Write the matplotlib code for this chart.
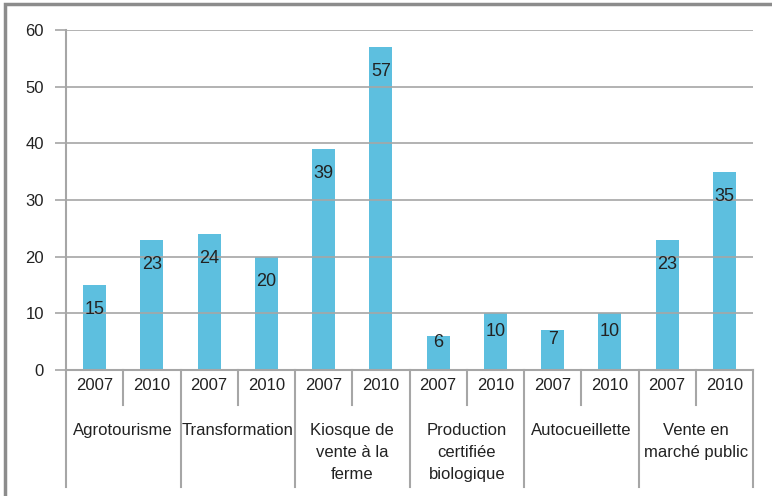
import matplotlib
matplotlib.use("Agg")
import matplotlib.pyplot as plt
from matplotlib.patches import Rectangle

plt.rcParams['font.family'] = ['Liberation Sans', 'DejaVu Sans']

groups = ["Agrotourisme", "Transformation", "Kiosque de\nvente à la\nferme",
          "Production\ncertifiée\nbiologique", "Autocueillette", "Vente en\nmarché public"]
years = ["2007", "2010"]
values = [15, 23, 24, 20, 39, 57, 6, 10, 7, 10, 23, 35]
yticks = [0, 10, 20, 30, 40, 50, 60]

W, H = 772, 496
fig = plt.figure(figsize=(W / 100, H / 100), dpi=100)
ax = fig.add_axes([66 / W, 126 / H, (753 - 66) / W, 340 / H])

bar_color = '#5dbfdf'
grid_color = '#a6a6a6'
text_color = '#222222'
n = len(values)
x = list(range(n))
ax.bar(x, values, width=0.4, color=bar_color, zorder=2, edgecolor='none')
ax.set_xlim(-0.5, n - 0.5)
ax.set_ylim(0, 60)
ax.set_yticks(yticks)
ax.set_yticklabels([str(t) for t in yticks], fontsize=12, color=text_color)
ax.tick_params(axis='y', length=8, color=grid_color, width=1.2, pad=8)
ax.tick_params(axis='x', length=0, labelbottom=False)
for t in yticks[1:]:
    ax.axhline(t, color=grid_color, lw=1.2, zorder=3)
for s in ['top', 'right', 'bottom']:
    ax.spines[s].set_visible(False)
ax.spines['left'].set_color(grid_color)
ax.spines['left'].set_linewidth(1.5)

for xi, v in zip(x, values):
    ylab = max(v - 4.4, 0.5 * v + 1.8)
    ax.text(xi, ylab, str(v), ha='center', va='center', fontsize=13, color=text_color, zorder=4)

# multi-level category axis
tr = ax.get_xaxis_transform()
px = 1 / 340.0
ax.plot([-0.5, n - 0.5], [0, 0], transform=tr, color=grid_color, lw=1.5, clip_on=False, zorder=5)
for i in range(n + 1):
    xb = i - 0.5
    if i % 2 == 0:
        ax.plot([xb, xb], [0, -117 * px], transform=tr, color=grid_color, lw=1.5, clip_on=False)
    else:
        ax.plot([xb, xb], [0, -35 * px], transform=tr, color=grid_color, lw=1.5, clip_on=False)
for xi in x:
    ax.text(xi, -15 * px, years[xi % 2], transform=tr, ha='center', va='center',
            fontsize=12, color=text_color)
for gi, g in enumerate(groups):
    ax.text(2 * gi + 0.5, -53 * px, g, transform=tr, ha='center', va='top',
            fontsize=12, color=text_color, linespacing=1.6)

# outer frame
fig.patches.append(Rectangle((5 / W, -0.05), 1.1, (H - 4) / H + 0.05, transform=fig.transFigure,
                             fill=False, edgecolor='#8c8c8c', lw=2.5))

fig.savefig('out.png', dpi=100)
